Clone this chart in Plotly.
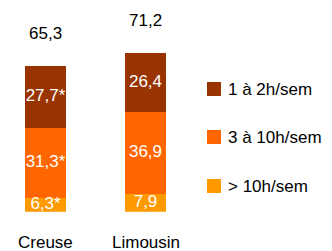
import plotly.graph_objects as go

categories = ["Creuse", "Limousin"]
series_names = ["> 10h/sem", "3 à 10h/sem", "1 à 2h/sem"]
v_gt10 = [6.3, 7.9]
v_3to10 = [31.3, 36.9]
v_1to2 = [27.7, 26.4]
labels_gt10 = ["6,3*", "7,9"]
labels_3to10 = ["31,3*", "36,9"]
labels_1to2 = ["27,7*", "26,4"]
totals = [65.3, 71.2]
total_labels = ["65,3", "71,2"]

colors = ["#FF9900", "#FF6600", "#993300"]
FONT = "Liberation Sans, Arial, sans-serif"
FS = 17
W, H = 324, 243  # page body has an 8px margin

xs = [0, 1]
fig = go.Figure()
series = [v_gt10, v_3to10, v_1to2]
labs = [labels_gt10, labels_3to10, labels_1to2]
base = [0.0, 0.0]
for name, vals, lab, col in zip(series_names, series, labs, colors):
    fig.add_trace(go.Bar(x=xs, y=vals, name=name, marker=dict(color=col, line=dict(width=0)),
                         width=0.41, showlegend=False, hoverinfo="skip"))
    mids = [b + v / 2 for b, v in zip(base, vals)]
    fig.add_trace(go.Scatter(x=xs, y=mids, mode="text", text=lab, showlegend=False,
                             textfont=dict(color="white", size=FS, family=FONT),
                             cliponaxis=False, hoverinfo="skip"))
    base = [b + v for b, v in zip(base, vals)]

for x, t, tl in zip(xs, totals, total_labels):
    fig.add_annotation(x=x, y=t, xref="x", yref="y", text=tl, showarrow=False,
                       yanchor="bottom", yshift=21, font=dict(size=FS, family=FONT, color="black"))
for x, c in zip(xs, categories):
    fig.add_annotation(x=x, y=0.037, xref="x", yref="paper", text=c, showarrow=False,
                       yanchor="middle", font=dict(size=FS, family=FONT, color="black"))

# legend (top item = top segment)
leg_names = series_names[::-1]
leg_colors = colors[::-1]
leg_y = [81, 129, 178]
fig.add_trace(go.Scatter(x=[206] * 3, y=leg_y, mode="markers", xaxis="x2", yaxis="y2",
                         marker=dict(symbol="square", size=14, color=leg_colors, line=dict(width=0)),
                         showlegend=False, hoverinfo="skip", cliponaxis=False))
for n, y in zip(leg_names, leg_y):
    fig.add_annotation(x=218, y=y, xref="x2", yref="y2", text=n, showarrow=False,
                       xanchor="left", yanchor="middle", font=dict(size=FS, family=FONT, color="black"))

fig.update_layout(
    width=W, height=H, margin=dict(l=0, r=0, t=0, b=0),
    paper_bgcolor="white", plot_bgcolor="rgba(0,0,0,0)",
    barmode="stack", showlegend=False,
    xaxis=dict(domain=[0, 200 / W], range=[-0.375, 1.625], visible=False),
    yaxis=dict(domain=[(H - 203.7) / H, 1], range=[0, 91.55], visible=False),
    xaxis2=dict(domain=[0, 1], range=[0, W], visible=False, anchor="y2"),
    yaxis2=dict(domain=[0, 1], range=[H, 0], visible=False, anchor="x2"),
    font=dict(family=FONT),
)
fig.write_html("out.html")
